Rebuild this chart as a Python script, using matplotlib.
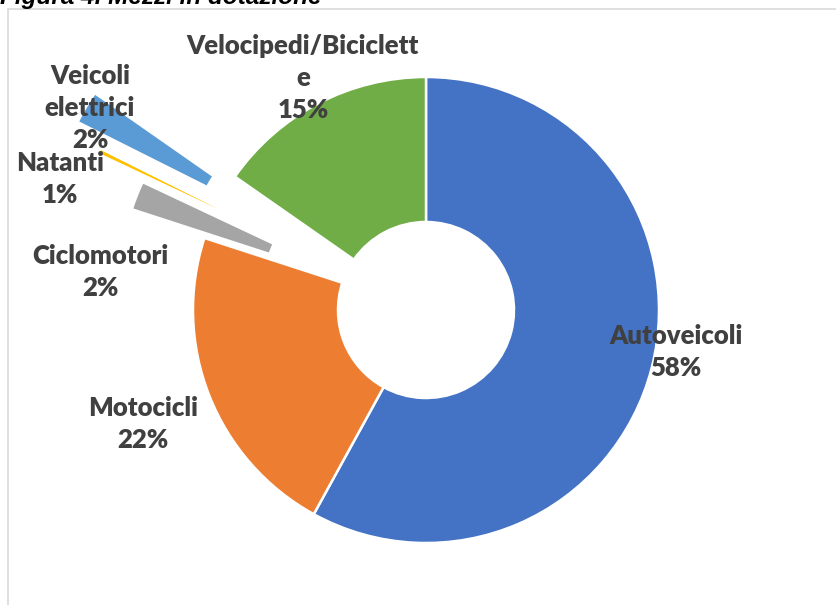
import numpy as np
import matplotlib
matplotlib.use("agg")
import matplotlib.pyplot as plt
from matplotlib.patches import Rectangle

# shares (natanti is a hair-thin slice)
categories = ["Autoveicoli", "Motocicli", "Ciclomotori", "Natanti",
              "Veicoli elettrici", "Velocipedi/Biciclette"]
shares = [58.0, 22.0, 2.0, 0.4, 2.3, 15.3]
pct_labels = ["58%", "22%", "2%", "1%", "2%", "15%"]
label_text = ["Autoveicoli", "Motocicli", "Ciclomotori", "Natanti",
              "Veicoli\nelettrici", "Velocipedi/Biciclett\ne"]

colors = ["#4472C4", "#ED7D31", "#A5A5A5", "#FFC000", "#5B9BD5", "#70AD47"]
explode = [0, 0, 0.335, 0.56, 0.70, 0]

# layout, in pixels of the 836x605 canvas
W, H = 836, 605
cx, cy, R = 426, 310, 233
label_px = [(676, 352), (143, 424), (100, 272), (60, 179), (90, 108), (303, 78)]

fig = plt.figure(figsize=(W / 100, H / 100), dpi=100)
ax = fig.add_axes([0, 0, 1, 1])

wedges, _ = ax.pie(shares, colors=colors, explode=explode, startangle=90,
                   counterclock=False, radius=1.0,
                   wedgeprops=dict(width=1 - 88 / R, edgecolor="white", linewidth=1.8))

ax.set_aspect("auto")
ax.set_xlim(-cx / R, (W - cx) / R)
ax.set_ylim(-(H - cy) / R, cy / R)
ax.axis("off")

for txt, pct, (px, py) in zip(label_text, pct_labels, label_px):
    ax.text((px - cx) / R, (cy - py) / R, txt + "\n" + pct, ha="center", va="center",
            fontsize=18.5, fontweight="heavy", family="Lato", color="#404040",
            linespacing=1.4)

# chart frame
fig.patches.append(Rectangle((8 / W, -0.1), 1.2, 1 - 9 / H + 0.1, transform=fig.transFigure,
                             fill=False, edgecolor="#d9d9d9", linewidth=1.2))

# title, cut off at the top in the source
fig.text(0.0, 1 - 4 / H, "Figura 4. Mezzi in dotazione", ha="left", va="baseline",
         fontsize=17.5, fontweight="bold", style="italic", family="Liberation Sans",
         color="black")

fig.savefig("out.png", dpi=100)
